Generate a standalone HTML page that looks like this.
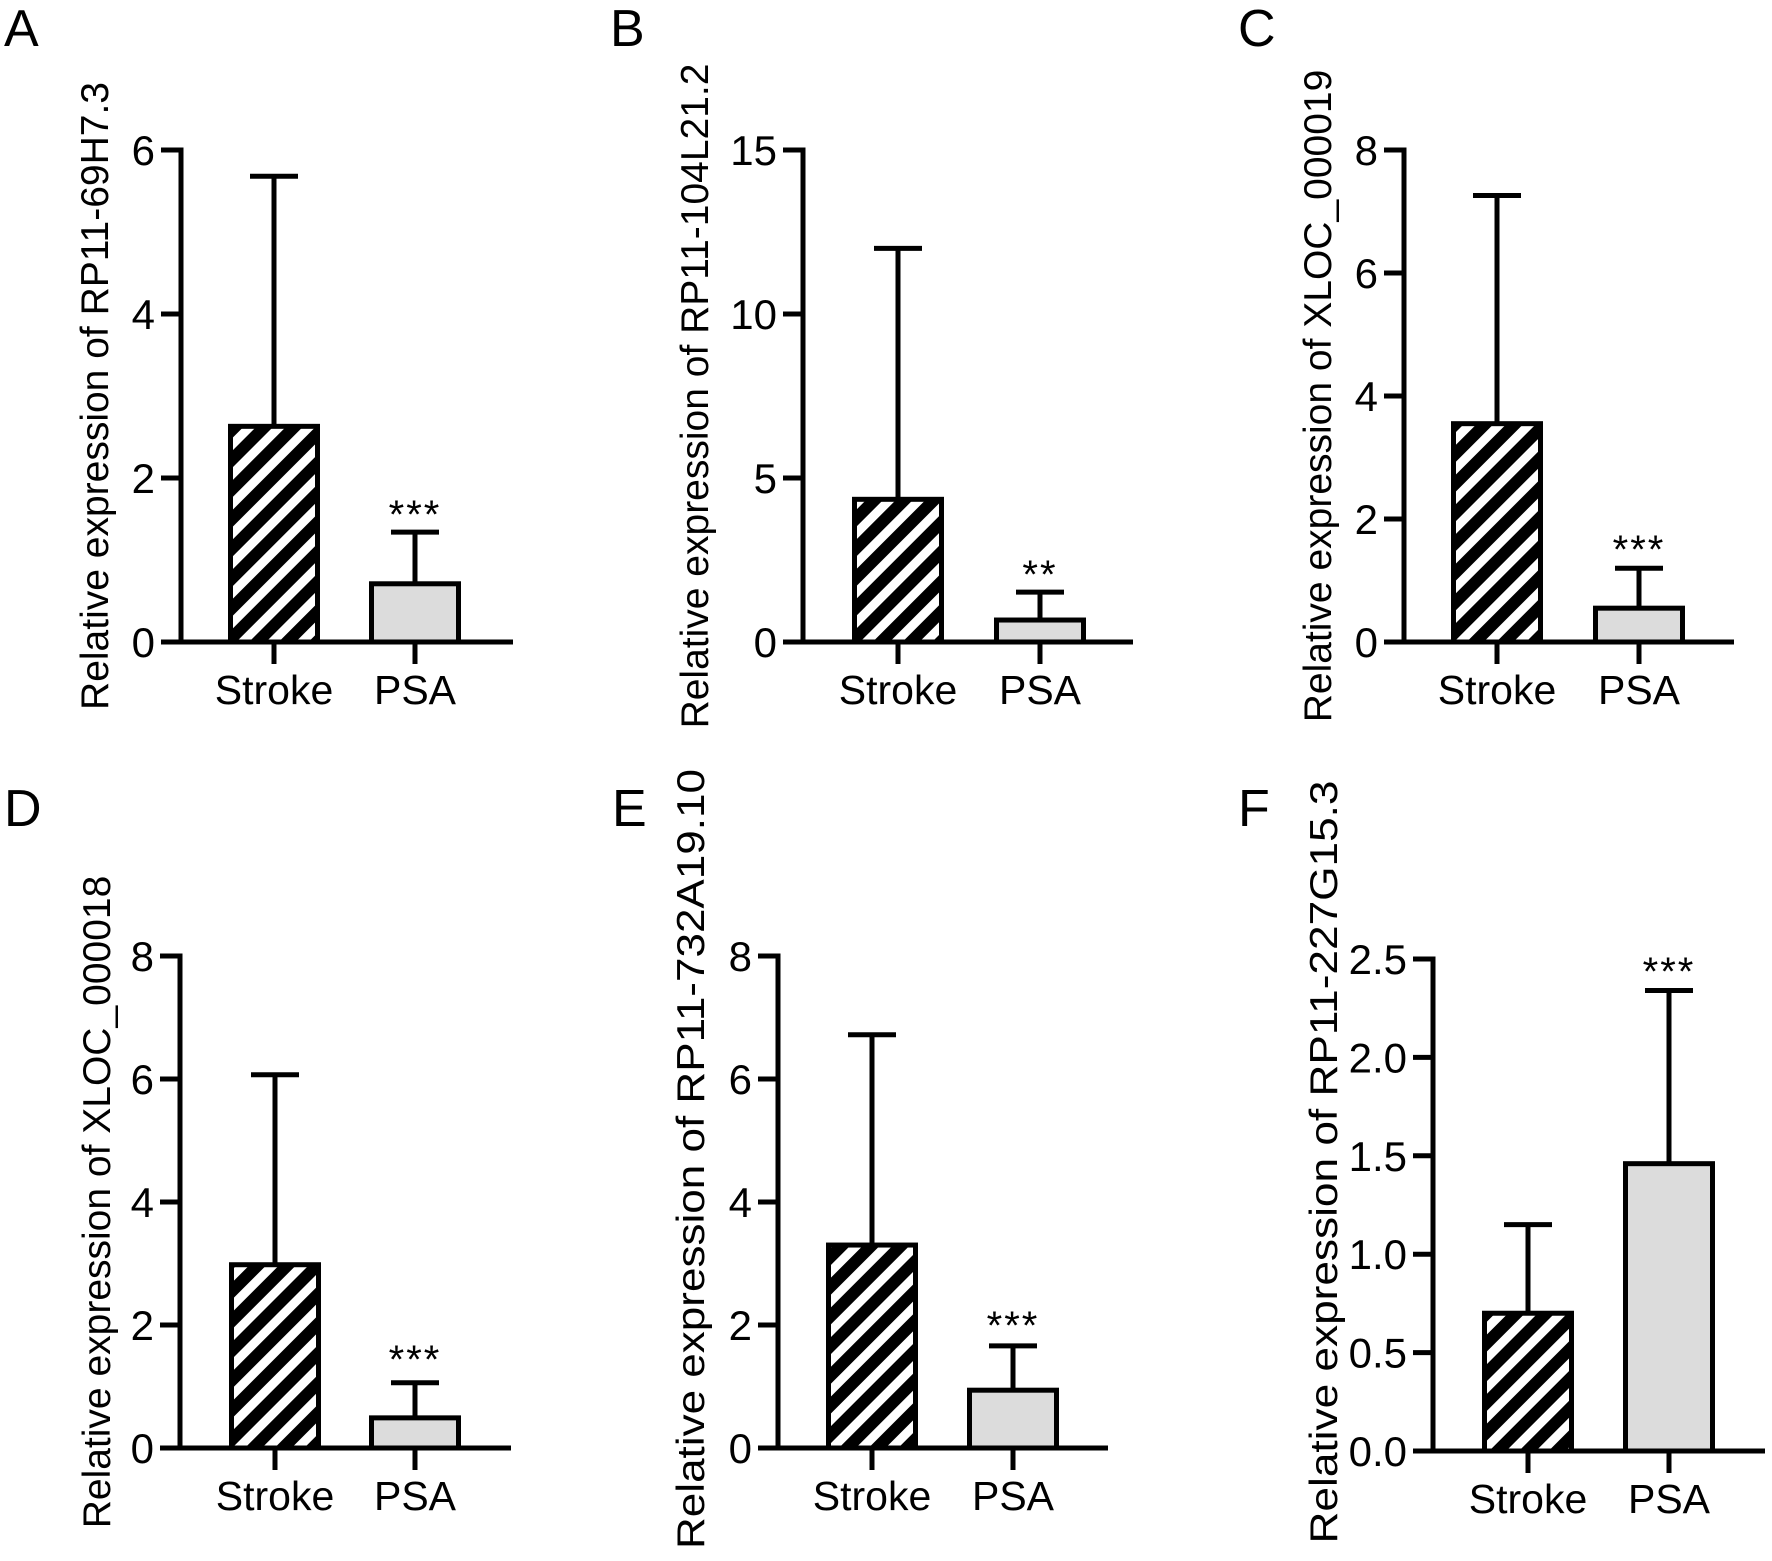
<!DOCTYPE html>
<html><head><meta charset="utf-8">
<style>
html,body{margin:0;padding:0;background:#fff;}
svg{display:block;}
text{font-family:"Liberation Sans",Arial,sans-serif;fill:#000;}
</style></head>
<body>
<svg id="fig" width="1772" height="1561" viewBox="0 0 1772 1561" xmlns="http://www.w3.org/2000/svg">
<defs>
<pattern id="hatch" patternUnits="userSpaceOnUse" width="21" height="21" patternTransform="rotate(45)">
<rect x="0" y="0" width="21" height="21" fill="#fff"/>
<rect x="0" y="0" width="12" height="21" fill="#000"/>
</pattern>
</defs>
</svg>
<script>
// ---- data ----
const categories = ["Stroke", "PSA"];
const panelLetters = ["A", "B", "C", "D", "E", "F"];
const geneNames = ["RP11-69H7.3", "RP11-104L21.2", "XLOC_000019", "XLOC_000018", "RP11-732A19.10", "RP11-227G15.3"];
const strokeMeans = [2.63, 4.35, 3.55, 2.98, 3.30, 0.70];
const strokeErr = [5.68, 12.0, 7.26, 6.07, 6.72, 1.15];
const psaMeans = [0.71, 0.67, 0.55, 0.49, 0.94, 1.46];
const psaErr = [1.34, 1.52, 1.20, 1.06, 1.66, 2.34];
const sigLabels = ["***", "**", "***", "***", "***", "***"];
const yMaxes = [6, 15, 8, 8, 8, 2.5];
const yTickSets = [
  ["0", "2", "4", "6"],
  ["0", "5", "10", "15"],
  ["0", "2", "4", "6", "8"],
  ["0", "2", "4", "6", "8"],
  ["0", "2", "4", "6", "8"],
  ["0.0", "0.5", "1.0", "1.5", "2.0", "2.5"]
];

// ---- layout (pixels) ----
const layout = [
  {ax:181, y0:642, yTop:150, xEnd:513, c1:274, c2:415, lx:4,   ly:46,  tx:108,  sy:505, tc:396, tl:0},
  {ax:803, y0:642, yTop:150, xEnd:1133, c1:898, c2:1040, lx:610, ly:46, tx:708,  sy:565, tc:396, tl:0},
  {ax:1404,y0:642, yTop:150, xEnd:1734, c1:1497,c2:1639, lx:1238,ly:46, tx:1331, sy:540, tc:396, tl:0},
  {ax:180, y0:1448,yTop:956, xEnd:511, c1:275, c2:415, lx:4,   ly:826, tx:110,  sy:1350, tc:1202, tl:0},
  {ax:778, y0:1448,yTop:956, xEnd:1108, c1:872, c2:1013, lx:612, ly:826, tx:704, sy:1316, tc:1159, tl:780},
  {ax:1433,y0:1451,yTop:959, xEnd:1765, c1:1528,c2:1669, lx:1238,ly:826, tx:1337, sy:962, tc:1162, tl:763}
];

const NS = "http://www.w3.org/2000/svg";
const svg = document.getElementById("fig");
function mk(tag, attrs, parent) {
  const e = document.createElementNS(NS, tag);
  for (const k in attrs) e.setAttribute(k, attrs[k]);
  (parent || svg).appendChild(e);
  return e;
}
const LW = 5, BW = 92, CAP = 48;

for (let i = 0; i < 6; i++) {
  const L = layout[i];
  const yScale = v => L.y0 - (v / yMaxes[i]) * (L.y0 - L.yTop);
  const g = mk("g", {});
  
  

  const letter = mk("text", {x: L.lx, y: L.ly, "font-size": 52}, g);
  letter.textContent = panelLetters[i];
  
  

  const tAttrs = {x: 0, y: 0, "font-size": 39, "text-anchor": "middle",
    transform: `translate(${L.tx},${L.tc}) rotate(-90)`};
  if (L.tl) { tAttrs.textLength = L.tl; tAttrs.lengthAdjust = "spacingAndGlyphs"; }
  const title = mk("text", tAttrs, g);
  title.textContent = "Relative expression of " + geneNames[i];
  
  

  const means = [strokeMeans[i], psaMeans[i]];
  const errs = [strokeErr[i], psaErr[i]];
  const centers = [L.c1, L.c2];
  for (let j = 0; j < 2; j++) {
    const top = yScale(means[j]);
    const eb = mk("line", {x1: centers[j], x2: centers[j], y1: top, y2: yScale(errs[j]), stroke: "#000", "stroke-width": LW}, g);
    
    
    const cap = mk("line", {x1: centers[j] - CAP / 2, x2: centers[j] + CAP / 2, y1: yScale(errs[j]), y2: yScale(errs[j]), stroke: "#000", "stroke-width": LW}, g);
    
    
    const r = mk("rect", {x: centers[j] - BW / 2 + LW / 2, y: top, width: BW - LW, height: L.y0 - top,
      fill: j === 0 ? "url(#hatch)" : "#dcdcdc", stroke: "#000", "stroke-width": LW}, g);
    
    
    const ct = mk("line", {x1: centers[j], x2: centers[j], y1: L.y0, y2: L.y0 + 22, stroke: "#000", "stroke-width": LW}, g);
    
    
    const cl = mk("text", {x: centers[j], y: L.y0 + 62, "font-size": 41, "text-anchor": "middle"}, g);
    cl.textContent = categories[j];
    
    
  }

  const ya = mk("line", {x1: L.ax, x2: L.ax, y1: L.yTop - LW / 2, y2: L.y0, stroke: "#000", "stroke-width": LW}, g);
  
  
  const xa = mk("line", {x1: L.ax - 20, x2: L.xEnd, y1: L.y0, y2: L.y0, stroke: "#000", "stroke-width": LW}, g);
  
  
  const ticks = yTickSets[i];
  for (let k = 0; k < ticks.length; k++) {
    const y = yScale(parseFloat(ticks[k]));
    const t = mk("line", {x1: L.ax - 20, x2: L.ax, y1: y, y2: y, stroke: "#000", "stroke-width": LW}, g);
    
    
    const tl = mk("text", {x: L.ax - 26, y: y + 15, "font-size": 42, "text-anchor": "end"}, g);
    tl.textContent = ticks[k];
    
    
  }

  const s = mk("text", {x: L.c2, y: L.sy + 23, "font-size": 40, "text-anchor": "middle", "letter-spacing": "2"}, g);
  s.textContent = sigLabels[i];
  
  
}
</script>
</body></html>
